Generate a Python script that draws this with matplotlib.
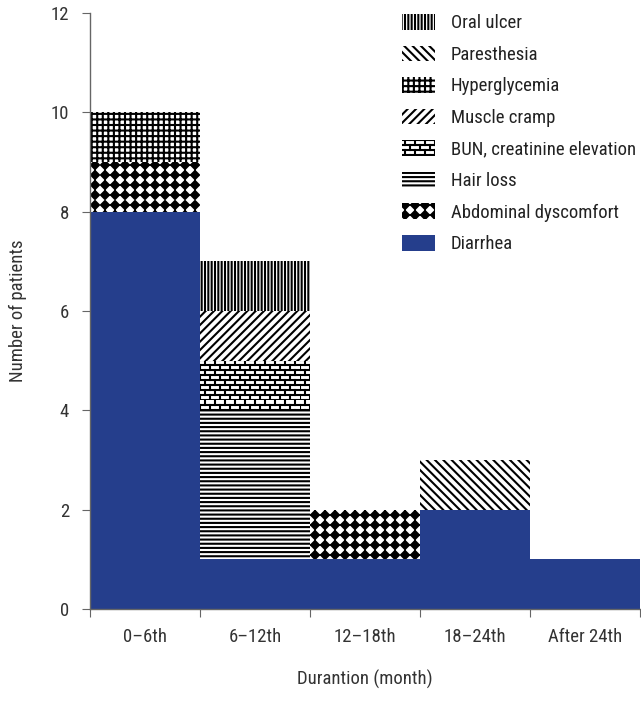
import numpy as np
import matplotlib
matplotlib.use("Agg")
import matplotlib.pyplot as plt
import matplotlib.hatch as mhatch
from matplotlib.path import Path
from matplotlib.patches import Patch

# ---------------- data ----------------
categories = ["0–6th", "6–12th", "12–18th", "18–24th", "After 24th"]
diarrhea = [8, 1, 1, 2, 1]
abdominal = [1, 0, 1, 0, 0]
hair_loss = [0, 3, 0, 0, 0]
bun = [0, 1, 0, 0, 0]
muscle_cramp = [0, 1, 0, 0, 0]
hyperglycemia = [1, 0, 0, 0, 0]
paresthesia = [0, 0, 0, 1, 0]
oral_ulcer = [0, 1, 0, 0, 0]
y_ticks = [0, 2, 4, 6, 8, 10, 12]


# ---------------- custom hatches ----------------
class DiamondHatch(mhatch.HatchPatternBase):
    def __init__(self, hatch, density):
        self.n = hatch.count('o') * 10
        self.num_vertices = self.n * self.n * 5 if self.n else 0

    def set_vertices_and_codes(self, vertices, codes):
        n = self.n
        s = 0.40 / n
        base = np.array([[0, -s], [s, 0], [0, s], [-s, 0], [0, -s]])
        bc = [Path.MOVETO, Path.LINETO, Path.LINETO, Path.LINETO, Path.CLOSEPOLY]
        k = 0
        for i in range(n):
            for j in range(n):
                c = np.array([(j + 0.5) / n, (i + 0.5) / n])
                vertices[k:k + 5] = base + c
                codes[k:k + 5] = bc
                k += 5


class BrickHatch(mhatch.HatchPatternBase):
    def __init__(self, hatch, density):
        c = hatch.count('O')
        self.rows = 20 * c
        self.cols = 10 * c
        self.num_vertices = (self.rows * 2 + self.rows * self.cols * 2) if c else 0

    def set_vertices_and_codes(self, vertices, codes):
        k = 0
        for r in range(self.rows):
            y = r / self.rows
            vertices[k] = [0, y]; codes[k] = Path.MOVETO
            vertices[k + 1] = [1, y]; codes[k + 1] = Path.LINETO
            k += 2
        for r in range(self.rows):
            y0 = r / self.rows
            y1 = (r + 1) / self.rows
            off = 0 if r % 2 == 0 else 0.5
            for cc in range(self.cols):
                x = (cc + off) / self.cols
                vertices[k] = [x, y0]; codes[k] = Path.MOVETO
                vertices[k + 1] = [x, y1]; codes[k + 1] = Path.LINETO
                k += 2


mhatch._hatch_types[:] = [t for t in mhatch._hatch_types
                          if t not in (mhatch.SmallCircles, mhatch.LargeCircles)]
mhatch._hatch_types.extend([DiamondHatch, BrickHatch])

plt.rcParams['font.family'] = ['Roboto Condensed', 'DejaVu Sans']
plt.rcParams['hatch.linewidth'] = 1.5

blue = '#253e8c'
series = [
    ("Diarrhea", diarrhea, None),
    ("Abdominal dyscomfort", abdominal, 'o'),
    ("Hair loss", hair_loss, '----'),
    ("BUN, creatinine elevation", bun, 'O'),
    ("Muscle cramp", muscle_cramp, '////'),
    ("Hyperglycemia", hyperglycemia, '+++'),
    ("Paresthesia", paresthesia, '\\\\\\\\'),
    ("Oral ulcer", oral_ulcer, '|||||'),
]

FS = 13.5
fig = plt.figure(figsize=(6.41, 7.19), dpi=100)
ax = fig.add_axes([90 / 641, 1 - 609 / 719, 550 / 641, (609 - 13) / 719])

x = np.arange(len(categories))
bottom = np.zeros(len(categories))
handles = []
for name, vals, h in series:
    vals = np.array(vals, dtype=float)
    if h is None:
        ax.bar(x, vals, width=1.0, bottom=bottom, align='edge', color=blue,
               linewidth=0)
        handles.append(Patch(facecolor=blue, linewidth=0, label=name))
    else:
        ax.bar(x, vals, width=1.0, bottom=bottom, align='edge', facecolor='white',
               edgecolor='black', hatch=h, linewidth=0)
        handles.append(Patch(facecolor='white', edgecolor='black', hatch=h,
                             linewidth=0, label=name))
    bottom += vals

ax.set_xlim(0, len(categories))
ax.set_ylim(0, 12)
ax.set_yticks(y_ticks)
ax.set_xticks(np.arange(len(categories) + 1))
ax.set_xticklabels([])
ax.set_xticks(x + 0.5, minor=True)
ax.set_xticklabels(categories, minor=True)
ax.tick_params(axis='x', which='minor', length=0, pad=14, labelsize=FS, colors='#333333')
ax.tick_params(axis='x', which='major', length=6, color='#666666')
ax.tick_params(axis='y', length=6, color='#666666', labelsize=FS, labelcolor='#333333', pad=9)
for s in ['top', 'right']:
    ax.spines[s].set_visible(False)
for s in ['left', 'bottom']:
    ax.spines[s].set_color('#666666')
    ax.spines[s].set_linewidth(1.0)

ax.set_xlabel("Durantion (month)", fontsize=FS, color='#333333', labelpad=17)
ax.set_ylabel("Number of patients", fontsize=FS, color='#333333', labelpad=17)

fig.legend(handles=handles[::-1], loc='upper left',
           bbox_to_anchor=(402 / 641, 1 - 14 / 719), frameon=False,
           fontsize=FS, handlelength=1.75, handleheight=0.9,
           handletextpad=0.85, labelspacing=0.71, borderpad=0,
           borderaxespad=0, labelcolor='#222222')

fig.savefig("out.png", dpi=100)
